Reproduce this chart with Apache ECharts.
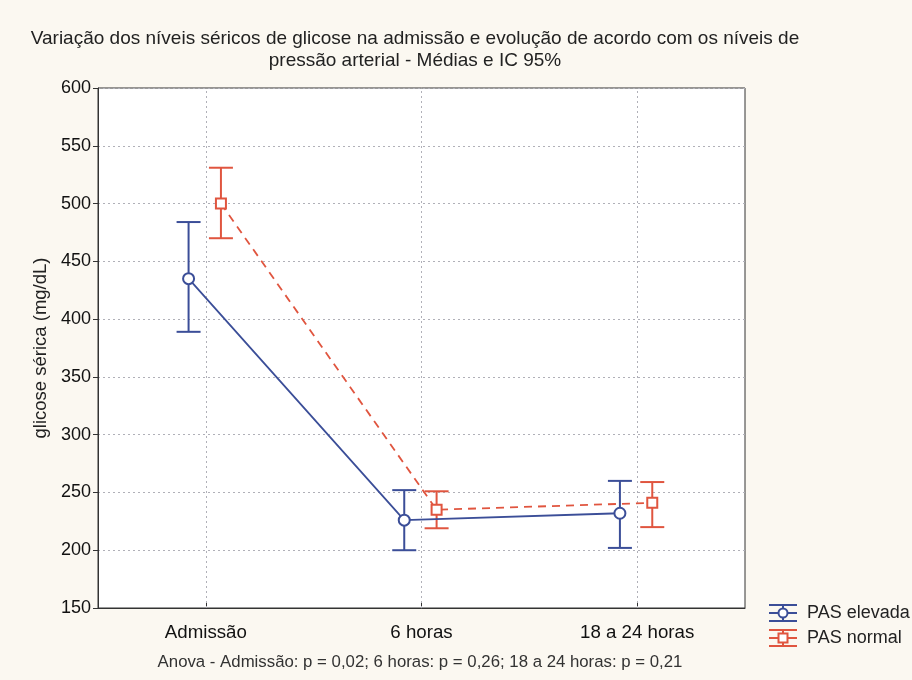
<!DOCTYPE html>
<html>
<head>
<meta charset="utf-8">
<script src="https://cdn.jsdelivr.net/npm/echarts@6/dist/echarts.min.js"></script>
<style>
html,body{margin:0;padding:0;background:#fbf8f1;}
#chart{width:912px;height:680px;}
</style>
</head>
<body>
<div id="chart"></div>
<script>
const categories = ['Admissão', '6 horas', '18 a 24 horas'];
const elevadaMean = [435, 226, 232];
const elevadaLow = [389, 200, 202];
const elevadaHigh = [484, 252, 260];
const normalMean = [500, 235, 241];
const normalLow = [470, 219, 220];
const normalHigh = [531, 251, 259];
const seriesNames = ['PAS elevada', 'PAS normal'];
const titleLines = ['Variação dos níveis séricos de glicose na admissão e evolução de acordo com os níveis de', 'pressão arterial - Médias e IC 95%'];
const footnote = 'Anova - Admissão: p = 0,02; 6 horas: p = 0,26; 18 a 24 horas: p = 0,21';

const BLUE = '#3b4e98';
const RED = '#e0553f';
const FONT = '"Liberation Sans", Arial, sans-serif';
const blueOffset = -0.08;
const redOffset = 0.07;

const pts = (vals, off) => vals.map((v, i) => [i + 0.5 + off, v]);
const bars = (lo, hi, off) => lo.map((v, i) => [i + 0.5 + off, v, hi[i]]);

function errRender(color) {
  return function (params, api) {
    const x = api.value(0);
    const a = api.coord([x, api.value(1)]);
    const b = api.coord([x, api.value(2)]);
    const hw = 12;
    const st = { stroke: color, lineWidth: 2 };
    return {
      type: 'group',
      children: [
        { type: 'line', shape: { x1: a[0], y1: a[1], x2: b[0], y2: b[1] }, style: st },
        { type: 'line', shape: { x1: a[0] - hw, y1: a[1], x2: a[0] + hw, y2: a[1] }, style: st },
        { type: 'line', shape: { x1: b[0] - hw, y1: b[1], x2: b[0] + hw, y2: b[1] }, style: st }
      ]
    };
  };
}

function legendItem(y, color, marker, name) {
  const st = { stroke: color, lineWidth: 2 };
  const cx = 783;
  const children = [
    { type: 'line', shape: { x1: 769, y1: y - 8, x2: 797, y2: y - 8 }, style: st },
    { type: 'line', shape: { x1: 769, y1: y + 8, x2: 797, y2: y + 8 }, style: st },
    { type: 'line', shape: { x1: 769, y1: y, x2: 797, y2: y }, style: st },
    { type: 'line', shape: { x1: cx, y1: y - 8, x2: cx, y2: y + 8 }, style: st },
    marker === 'circle'
      ? { type: 'circle', shape: { cx: cx, cy: y, r: 4.5 }, style: { fill: '#fff', stroke: color, lineWidth: 2 } }
      : { type: 'rect', shape: { x: cx - 4.5, y: y - 4.5, width: 9, height: 9 }, style: { fill: '#fff', stroke: color, lineWidth: 2 } },
    { type: 'text', x: 807, y: y, style: { text: name, font: '18px ' + FONT, fill: '#222', textVerticalAlign: 'middle' } }
  ];
  return { type: 'group', children: children };
}

const chart = echarts.init(document.getElementById('chart'));
chart.setOption({
  backgroundColor: '#fbf8f1',
  animation: false,
  grid: { left: 98, right: 167, top: 88, bottom: 72, show: true, backgroundColor: '#ffffff', borderColor: '#333', borderWidth: 1 },
  graphic: [
    { type: 'text', x: 415, y: 39, style: { text: titleLines[0], font: '19px ' + FONT, fill: '#222', textAlign: 'center', textVerticalAlign: 'middle' } },
    { type: 'text', x: 415, y: 61, style: { text: titleLines[1], font: '19px ' + FONT, fill: '#222', textAlign: 'center', textVerticalAlign: 'middle' } },
    { type: 'text', x: 420, y: 662, style: { text: footnote, font: '16.8px ' + FONT, fill: '#333', textAlign: 'center', textVerticalAlign: 'middle' } },
    legendItem(613, BLUE, 'circle', seriesNames[0]),
    legendItem(638, RED, 'rect', seriesNames[1])
  ],
  xAxis: [
    {
      type: 'category', data: categories, boundaryGap: true,
      axisLine: { show: true, lineStyle: { color: '#333', width: 1 } },
      axisTick: { show: true, inside: true, alignWithLabel: true, length: 6, lineStyle: { color: '#333' } },
      axisLabel: { fontSize: 18.7, color: '#111', fontFamily: FONT, margin: 15 },
      splitLine: { show: false }
    },
    { type: 'value', min: 0, max: 3, show: false }
  ],
  yAxis: {
    type: 'value', min: 150, max: 600, interval: 50,
    name: 'glicose sérica (mg/dL)', nameLocation: 'middle', nameRotate: 90, nameGap: 48,
    nameTextStyle: { fontSize: 18.5, color: '#222', fontFamily: FONT },
    axisLine: { show: true, lineStyle: { color: '#333' } },
    axisTick: { show: true, inside: false, length: 5, lineStyle: { color: '#333' } },
    axisLabel: { fontSize: 18, color: '#111', fontFamily: FONT, margin: 7 },
    splitLine: { show: true, lineStyle: { type: [2, 3], color: '#b0b0b8', width: 1 } }
  },
  series: [
    {
      type: 'line', name: 'grid-v', xAxisIndex: 1, data: [], silent: true,
      markLine: {
        silent: true, symbol: 'none', label: { show: false },
        lineStyle: { type: [2, 3], color: '#b0b0b8', width: 1 },
        data: categories.map((c, i) => ({ xAxis: i + 0.5 }))
      }
    },
    {
      type: 'custom', name: seriesNames[0] + ' IC', xAxisIndex: 1, renderItem: errRender(BLUE),
      data: bars(elevadaLow, elevadaHigh, blueOffset), encode: { x: 0, y: [1, 2] }, z: 3
    },
    {
      type: 'custom', name: seriesNames[1] + ' IC', xAxisIndex: 1, renderItem: errRender(RED),
      data: bars(normalLow, normalHigh, redOffset), encode: { x: 0, y: [1, 2] }, z: 3
    },
    {
      type: 'line', name: seriesNames[0], xAxisIndex: 1, data: pts(elevadaMean, blueOffset),
      symbol: 'circle', symbolSize: 11, z: 5,
      lineStyle: { color: BLUE, width: 1.8 },
      itemStyle: { color: '#fff', borderColor: BLUE, borderWidth: 2 }
    },
    {
      type: 'line', name: seriesNames[1], xAxisIndex: 1, data: pts(normalMean, redOffset),
      symbol: 'rect', symbolSize: 10, z: 5,
      lineStyle: { color: RED, width: 1.8, type: [8, 6] },
      itemStyle: { color: '#fff', borderColor: RED, borderWidth: 2 }
    }
  ]
});
</script>
</body>
</html>
